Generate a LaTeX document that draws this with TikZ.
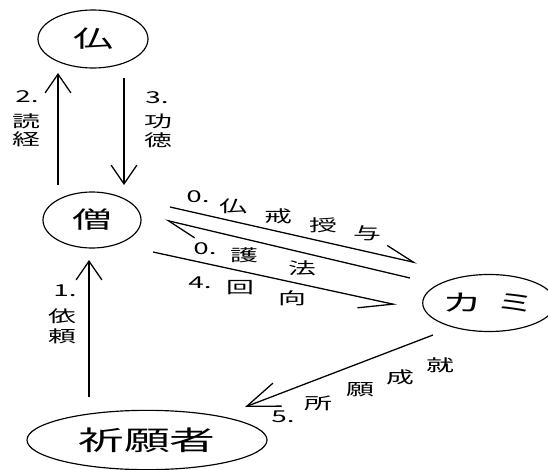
\documentclass[tikz,border=0pt]{standalone}
\usepackage{fontspec}
\newfontfamily\cj[FakeStretch=1.7]{Noto Sans CJK JP}
\usetikzlibrary{shapes.geometric,arrows.meta}
\begin{document}
\begin{tikzpicture}[x=0.03cm,y=-0.03cm,
  ent/.style={draw,ellipse,line width=1pt,inner sep=0pt,font=\cj\fontsize{20}{20}\selectfont},
  lbl/.style={inner sep=0pt,font=\cj\fontsize{14}{14}\selectfont},
  con/.style={line width=1.1pt},
  vtip/.style={-{Straight Barb[length=16pt,width=22pt,line width=1.1pt]}},
  hl/.style={-{Straight Barb[left,length=25pt,width=18pt,line width=1.1pt]}},
  hr/.style={-{Straight Barb[right,length=29pt,width=19pt,line width=1.1pt]}},
  ftip/.style={-{Straight Barb[length=28pt,width=21pt,line width=1.1pt]}}]
\useasboundingbox (0,0) rectangle (548,470);
% nodes
\node[ent,minimum width=3.3cm,minimum height=1.74cm] (butsu) at (93,39) {仏};
\node[ent,minimum width=2.94cm,minimum height=1.68cm] (sou) at (92,220) {僧};
\node[ent,minimum width=3.54cm,minimum height=1.71cm] (kami) at (489,303) {カ\hspace{0.6em}ミ};
\node[ent,minimum width=7.2cm,minimum height=1.78cm,font=\cj\fontsize{23}{23}\selectfont] (kigan) at (147,440) {祈願者};
% connector end points
\coordinate (a2s) at (58,185); \coordinate (a2e) at (58,73);
\coordinate (a3s) at (124,78); \coordinate (a3e) at (124,185);
\coordinate (a1s) at (89,397); \coordinate (a1e) at (89,260);
\coordinate (b1s) at (170,207); \coordinate (b1e) at (417,263);
\coordinate (b2s) at (410,278); \coordinate (b2e) at (165,220);
\coordinate (b3s) at (153,252); \coordinate (b3e) at (397,305);
\coordinate (b5s) at (433,335); \coordinate (b5e) at (245,407);
% connectors
\draw[con,vtip] (a2s) -- (a2e);
\draw[con,vtip] (a3s) -- (a3e);
\draw[con,vtip] (a1s) -- (a1e);
\draw[con,hl] (b1s) -- (b1e);
\draw[con,hl] (b2s) -- (b2e);
\draw[con,hr] (b3s) -- (b3e);
\draw[con,ftip] (b5s) -- (b5e);
% labels
\node[lbl] (l2a) at (27,97) {2.};
\node[lbl] (l2b) at (26,121) {読};
\node[lbl] (l2c) at (26,139) {経};
\node[lbl] (l3a) at (157,98) {3.};
\node[lbl] (l3b) at (158,121) {功};
\node[lbl] (l3c) at (158,140) {徳};
\node[lbl] (l1a) at (65,291) {1.};
\node[lbl] (l1b) at (62,316) {依};
\node[lbl] (l1c) at (62,336) {頼};
\node[lbl] (k0a) at (198,197) {0.};
\node[lbl] (k0b) at (233,206) {仏};
\node[lbl] (k0c) at (278,216) {戒};
\node[lbl] (k0d) at (323,225) {授};
\node[lbl] (k0e) at (367,233) {与};
\node[lbl] (g0a) at (205,249) {0.};
\node[lbl] (g0b) at (244,255) {護};
\node[lbl] (g0c) at (302,268) {法};
\node[lbl] (e4a) at (200,283) {4.};
\node[lbl] (e4b) at (240,288) {回};
\node[lbl] (e4c) at (292,298) {向};
\node[lbl] (s5a) at (283,417) {5.};
\node[lbl] (s5b) at (318,403) {所};
\node[lbl] (s5c) at (360,390) {願};
\node[lbl] (s5d) at (400,377) {成};
\node[lbl] (s5e) at (440,365) {就};
\end{tikzpicture}
\end{document}
